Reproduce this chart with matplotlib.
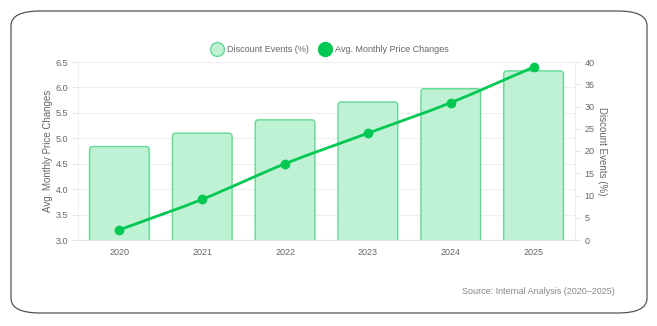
import matplotlib
matplotlib.use("Agg")
import matplotlib.pyplot as plt
import numpy as np
from matplotlib.patches import FancyBboxPatch
from matplotlib.path import Path
from matplotlib.patches import PathPatch
from matplotlib.lines import Line2D

plt.rcParams["font.family"] = ["Liberation Sans", "DejaVu Sans"]

years = ["2020", "2021", "2022", "2023", "2024", "2025"]
discount_events = [21, 24, 27, 31, 34, 38]          # right axis, bars
price_changes = [3.2, 3.8, 4.5, 5.1, 5.7, 6.4]      # left axis, line

GREEN = "#00c853"
BAR_FILL = "#bff1d4"
BAR_EDGE = "#63d993"
GRAY = "#666666"

fig = plt.figure(figsize=(6.57, 3.26), dpi=100)
fig.patch.set_facecolor("white")

# card border
card = FancyBboxPatch((11 / 657, 13 / 326), 636 / 657, 302 / 326,
                      boxstyle="round,pad=0,rounding_size=0.045",
                      transform=fig.transFigure, facecolor="white",
                      edgecolor="#555555", linewidth=0.9, zorder=-5)
fig.patches.append(card)

AX_W, AX_H = 497, 178
ax = fig.add_axes([78 / 657, 86 / 326, AX_W / 657, AX_H / 326])
ax2 = ax.twinx()
ax.set_zorder(ax2.get_zorder() + 1)
ax.patch.set_visible(False)
ax2.patch.set_visible(False)

x = np.arange(len(years))
ax.set_xlim(-0.5, 5.5)
ax.set_ylim(3.0, 6.5)
ax2.set_ylim(0, 40)

# grid lines at the left-axis ticks, drawn behind the bars
left_ticks = np.arange(3.0, 6.51, 0.5)
for v in left_ticks:
    ax2.axhline((v - 3.0) / 3.5 * 40, color="#efefef", linewidth=0.8, zorder=0)

# bars on right axis, slightly rounded corners
px_per_x = AX_W / 6.0
px_per_y = AX_H / 40.0
bw = 0.72
for xi, v in zip(x, discount_events):
    bar = FancyBboxPatch((xi - bw / 2, -2), bw, v + 2,
                         boxstyle="round,pad=0,rounding_size=0.04",
                         mutation_aspect=px_per_x / px_per_y,
                         facecolor=BAR_FILL, edgecolor=BAR_EDGE,
                         linewidth=1.0, zorder=2)
    ax2.add_patch(bar)
ax2.set_yticks(range(0, 41, 5))
ax2.set_ylabel("Discount Events (%)", rotation=270, labelpad=9,
               color=GRAY, fontsize=7)

# smooth line on left axis (tension-style bezier computed in pixel space)
sx, sy = px_per_x, AX_H / 3.5
px = x * sx
py = (np.array(price_changes) - 3.0) * sy
t = 0.3
verts = [(x[0], price_changes[0])]
codes = [Path.MOVETO]
n = len(x)
cps = []
for i in range(n):
    p0 = (px[max(i - 1, 0)], py[max(i - 1, 0)])
    p1 = (px[i], py[i])
    p2 = (px[min(i + 1, n - 1)], py[min(i + 1, n - 1)])
    d01 = np.hypot(p1[0] - p0[0], p1[1] - p0[1])
    d12 = np.hypot(p2[0] - p1[0], p2[1] - p1[1])
    s = d01 + d12
    fa = d01 / s if s else 0
    fb = d12 / s if s else 0
    prev = (p1[0] - fa * t * (p2[0] - p0[0]), p1[1] - fa * t * (p2[1] - p0[1]))
    nxt = (p1[0] + fb * t * (p2[0] - p0[0]), p1[1] + fb * t * (p2[1] - p0[1]))
    cps.append((prev, nxt))
for i in range(1, n):
    c1 = cps[i - 1][1]
    c2 = cps[i][0]
    verts += [(c1[0] / sx, c1[1] / sy + 3.0), (c2[0] / sx, c2[1] / sy + 3.0),
              (x[i], price_changes[i])]
    codes += [Path.CURVE4] * 3
ax.add_patch(PathPatch(Path(verts, codes), facecolor="none", edgecolor=GREEN,
                       linewidth=2.0, zorder=3, clip_on=False))
ax.plot(x, price_changes, "o", color=GREEN, markersize=6, zorder=4, clip_on=False)

ax.set_yticks(left_ticks)
ax.set_yticklabels([f"{v:.1f}" for v in left_ticks])
ax.set_xticks(x)
ax.set_xticklabels(years)
ax.set_ylabel("Avg. Monthly Price Changes", color=GRAY, fontsize=7, labelpad=2)

for a in (ax, ax2):
    for sp in a.spines.values():
        sp.set_visible(False)
    a.tick_params(colors=GRAY, labelsize=6.5, length=4, width=0.6)
    a.tick_params(axis="both", color="#e0e0e0")
ax.spines["bottom"].set_visible(True)
ax.spines["bottom"].set_color("#e0e0e0")
ax.spines["left"].set_visible(True)
ax.spines["left"].set_color("#eeeeee")
ax2.spines["right"].set_visible(True)
ax2.spines["right"].set_color("#eeeeee")
ax.tick_params(axis="x", length=0, pad=6)
ax.tick_params(axis="y", pad=3)
ax2.tick_params(axis="y", pad=3)

handles = [
    Line2D([], [], marker="o", linestyle="none", markersize=10,
           markerfacecolor=BAR_FILL, markeredgecolor=BAR_EDGE, markeredgewidth=1.0),
    Line2D([], [], marker="o", linestyle="none", markersize=10,
           markerfacecolor=GREEN, markeredgecolor=GREEN),
]
fig.legend(handles, ["Discount Events (%)", "Avg. Monthly Price Changes"],
           loc="center", bbox_to_anchor=(0.5, 276 / 326), ncol=2, frameon=False,
           fontsize=6.5, handletextpad=0.1, columnspacing=0.8,
           labelcolor=GRAY)

fig.text(615 / 657, 34 / 326, "Source: Internal Analysis (2020\u20132025)",
         ha="right", va="center", fontsize=6.5, color="#888888")

fig.savefig("out.png", dpi=100, facecolor="white")
